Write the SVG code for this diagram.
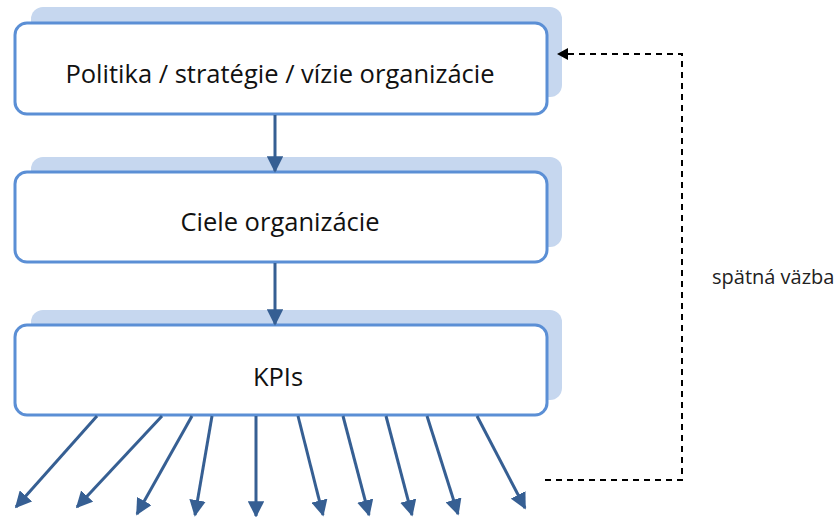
<svg xmlns="http://www.w3.org/2000/svg" width="840" height="517" viewBox="0 0 840 517">
<defs>
<style>
.shadow{fill:#c6d7ef;}
.box{fill:#ffffff;stroke:#5b8fd5;stroke-width:3;}
.lbl{font-family:"Open Sans","Liberation Sans",sans-serif;font-size:25.5px;fill:#111;text-anchor:middle;}
.note{font-family:"Open Sans","Liberation Sans",sans-serif;font-size:20px;fill:#222;}
.arr{stroke:#365f93;stroke-width:3;fill:none;marker-end:url(#ah);}
.fb{stroke:#000;stroke-width:2;fill:none;stroke-dasharray:6,5;}
</style>
<marker id="ah" viewBox="0 0 10 10" refX="9" refY="5" markerWidth="5.5" markerHeight="5.5" orient="auto" markerUnits="strokeWidth">
<path d="M0,0 L10,5 L0,10 z" fill="#365f93"/>
</marker>
</defs>
<g id="node-politika">
<rect class="shadow" x="31" y="7" width="531" height="90" rx="12"/>
<rect class="box" x="15" y="23" width="532" height="91" rx="12"/>
<text class="lbl" x="280" y="83">Politika / stratégie / vízie organizácie</text>
</g>
<g id="node-ciele">
<rect class="shadow" x="31" y="157" width="531" height="90" rx="12"/>
<rect class="box" x="15" y="172" width="532" height="90" rx="12"/>
<text class="lbl" x="280" y="231">Ciele organizácie</text>
</g>
<g id="node-kpis">
<rect class="shadow" x="31" y="310" width="531" height="90" rx="12"/>
<rect class="box" x="15" y="325" width="532" height="90" rx="12"/>
<text class="lbl" x="278" y="386">KPIs</text>
</g>
<g id="connectors">
<line class="arr" x1="275" y1="115" x2="275" y2="171"/>
<line class="arr" x1="275" y1="263" x2="275" y2="324"/>
<line class="arr" x1="97" y1="416" x2="16" y2="507"/>
<line class="arr" x1="162" y1="416" x2="77" y2="507"/>
<line class="arr" x1="192" y1="416" x2="137" y2="514"/>
<line class="arr" x1="212" y1="416" x2="195" y2="515"/>
<line class="arr" x1="256" y1="416" x2="256" y2="516"/>
<line class="arr" x1="298" y1="416" x2="323" y2="515"/>
<line class="arr" x1="343" y1="416" x2="369" y2="515"/>
<line class="arr" x1="386" y1="416" x2="412" y2="515"/>
<line class="arr" x1="427" y1="416" x2="458" y2="514"/>
<line class="arr" x1="477" y1="416" x2="525" y2="508"/>
<polyline class="fb" points="545,480 682,480 682,54 566,54"/>
<path d="M557,54 L568,48 L568,60 z" fill="#000"/>
</g>
<text class="note" x="712" y="284">spätná väzba</text>
</svg>
